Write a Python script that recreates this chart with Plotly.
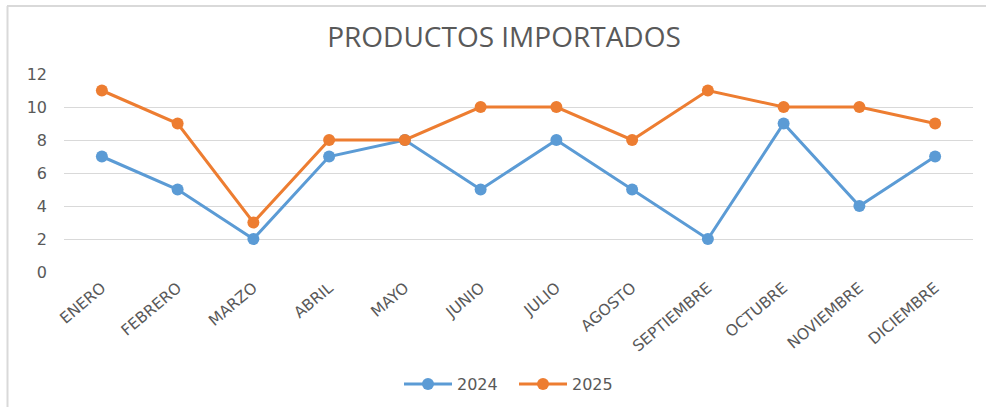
import plotly.graph_objects as go

months = ["ENERO", "FEBRERO", "MARZO", "ABRIL", "MAYO", "JUNIO", "JULIO",
          "AGOSTO", "SEPTIEMBRE", "OCTUBRE", "NOVIEMBRE", "DICIEMBRE"]
values_2024 = [7, 5, 2, 7, 8, 5, 8, 5, 2, 9, 4, 7]
values_2025 = [11, 9, 3, 8, 8, 10, 10, 8, 11, 10, 10, 9]
y_ticks = [0, 2, 4, 6, 8, 10, 12]

W, H = 986, 407
L, R, T, B = 64, 13, 74, 135
pw, ph = W - L - R, H - T - B

def px_x(x):
    return (x - L) / pw

def px_y(y):
    return (H - B - y) / ph

fig = go.Figure()
fig.add_trace(go.Scatter(x=months, y=values_2024, name="2024", mode="lines+markers",
                         line=dict(color="#5B9BD5", width=3),
                         marker=dict(color="#5B9BD5", size=12)))
fig.add_trace(go.Scatter(x=months, y=values_2025, name="2025", mode="lines+markers",
                         line=dict(color="#ED7D31", width=3),
                         marker=dict(color="#ED7D31", size=12)))

border = "#d9d9d9"
fig.add_shape(type="line", xref="paper", yref="paper",
              x0=px_x(7), x1=px_x(W + 5), y0=px_y(6), y1=px_y(6),
              line=dict(color=border, width=2))
fig.add_shape(type="line", xref="paper", yref="paper",
              x0=px_x(7.5), x1=px_x(7.5), y0=px_y(6), y1=px_y(H + 5),
              line=dict(color=border, width=2))

fig.update_layout(
    width=W, height=H,
    margin=dict(l=L, r=R, t=T, b=B, autoexpand=False),
    paper_bgcolor="white", plot_bgcolor="white",
    font=dict(family="DejaVu Sans", color="#595959"),
    title=dict(text="PRODUCTOS IMPORTADOS", x=504 / W, xanchor="center",
               y=1 - 37 / H, yanchor="middle",
               font=dict(size=28, color="#595959", family="Open Sans")),
    showlegend=True,
    legend=dict(orientation="h", x=514 / W, xanchor="center", xref="container",
                y=1 - 384 / H, yanchor="middle", yref="container",
                itemwidth=48, entrywidth=52, entrywidthmode="pixels",
                font=dict(size=16, color="#595959")),
    xaxis=dict(type="category", range=[-0.5, len(months) - 0.5], tickangle=-40,
               showgrid=False, zeroline=False,
               showline=False, tickfont=dict(size=15.5, color="#595959"),
               ticks="", ticklabelstandoff=3, automargin=False),
    yaxis=dict(range=[0, 12], tickvals=y_ticks, showgrid=True, gridcolor=border,
               gridwidth=1, zeroline=False, showline=False,
               tickfont=dict(size=16, color="#595959"), ticklabelstandoff=16,
               automargin=False),
)

fig.write_html("out.html", config={"displayModeBar": False},
               post_script="document.body.style.margin='0px';")
